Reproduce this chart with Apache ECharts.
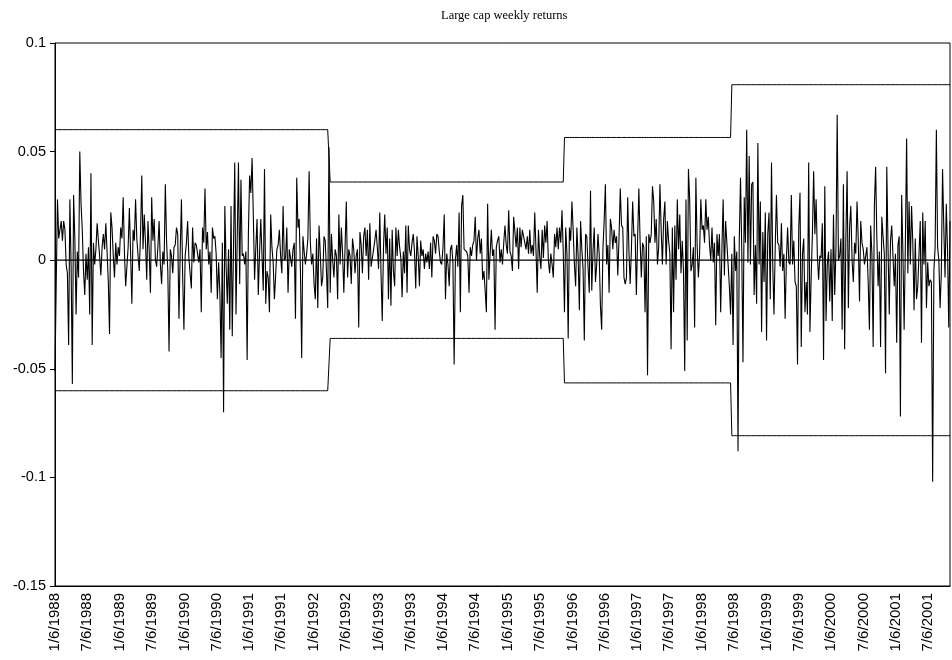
<!DOCTYPE html>
<html>
<head>
<meta charset="utf-8">
<script src="https://cdn.jsdelivr.net/npm/echarts@6/dist/echarts.min.js"></script>
<style>html,body{margin:0;padding:0;background:#fff}#c{width:952px;height:660px}</style>
</head>
<body>
<div id="c"></div>
<script>
// Weekly returns (in %), starting 1/6/1988, one value per week
const weeksA = [-5.1,-1.0,2.8,1.0,1.4,1.8,0.9,1.8,1.4,-0.2,-0.6,-3.9,2.8,-0.3,-5.7,3.0,1.0,-2.5,0.4,-0.8,5.0,2.6,1.4,-0.5,-1.6,0.3,-0.9,0.6,-2.5,4.0,-3.9,0.8,-0.2,0.5,1.7,0.9,0.2,-0.7,0.6,1.2,0.5,1.7,0.4,-1.0,-3.4,2.2,1.5,0.2,-0.8,0.8,-0.2,0.6,0.2,1.5,1.0,2.9,0.4,-1.2,-1.2,0.6,2.4,0.3,-2.0,1.4,0.9,2.8];
const weeksB = [1.0,0.2,-0.5,1.2,3.9,0.5,2.1,0.8,-0.9,1.8,0.4,-1.5,2.9,0.9,1.9,0.0,-0.3,0.6,1.8,-0.2,-1.1,0.4,-0.2,3.5,0.9,-0.5,-4.2,0.5,0.2,-0.6,0.6,0.7,1.5,1.2,-2.7,0.4,2.8,-0.8,-3.2,0.2,0.8,1.8,0.1,-0.6,-1.3,1.5,-0.1,0.8,0.7,0.3,-0.1,0.5,-2.4,1.5,0.8,3.3,0.5,1.3,-0.2,0.4,-1.5,1.5,1.0,1.1,0.3,-1.8];
const weeksC = [-0.1,-1.5,-4.5,0.8,-7.0,2.5,-0.2,-2.0,0.5,-3.2,2.5,-3.5,0.6,4.5,-2.5,1.0,4.5,-1.1,3.7,0.2,0.3,-0.2,0.4,-4.6,1.2,3.9,3.1,4.7,2.0,-0.9,0.6,1.9,-1.6,0.3,1.9,0.2,-1.4,4.2,-2.0,-0.5,-0.8,-2.4,2.1,0.6,-0.1,-1.8,-0.7,0.5,0.7,1.4,0.2,-0.6,2.5,0.0,0.1,1.5,-1.5,0.5,0.5,-0.3,0.5,0.8,-2.7,3.8,1.5,1.9,-0.5];
const weeksD = [-4.5,1.1,0.4,-0.2,0.3,1.0,4.1,0.8,-0.2,0.3,-1.1,-1.8,1.0,-2.2,1.6,0.3,-1.2,-0.8,1.1,0.9,-0.5,-2.2,5.2,-1.5,1.2,0.0,-0.8,0.5,0.2,-1.8,2.1,-0.2,1.5,0.3,-1.5,0.6,2.7,-0.8,0.5,0.2,-1.1,1.0,0.5,-0.6,0.2,0.5,-3.1,1.3,0.7,-0.6,1.1,1.5,0.2,1.4,-0.9,1.7,-0.3,-0.3,0.5,0.9,1.4,0.6,-0.4,2.2,-0.6,-2.8];
const weeksE = [0.6,2.1,0.3,1.5,-1.8,1.0,-2.1,1.4,-0.5,-1.2,1.5,0.2,1.4,0.6,0.1,-1.7,0.4,-0.6,1.6,-1.5,1.6,0.5,0.2,0.8,1.2,0.4,-1.3,1.1,0.2,-1.2,0.9,0.2,0.5,-0.4,0.3,-0.1,0.4,-0.4,0.8,-0.8,1.1,0.9,0.3,1.2,1.1,0.4,-0.1,-0.2,0.6,2.1,-1.8,0.3,-0.2,-1.2,0.5,0.7,-0.1,-4.8,0.0,0.7,-0.3,2.2,-2.4,2.5,3.0,0.5];
const weeksF = [0.5,0.4,0.2,-1.5,0.6,0.2,0.7,0.9,2.0,0.0,1.0,1.4,0.3,1.0,-0.9,-0.5,-1.4,-2.4,2.6,-0.9,0.3,1.4,0.2,0.5,-3.2,0.6,0.9,1.1,-0.1,0.5,-0.2,0.8,1.6,0.7,0.3,2.3,0.4,0.2,-0.5,2.0,1.3,0.6,1.5,-0.4,1.5,0.6,1.4,1.1,0.8,0.5,1.1,0.3,1.4,0.3,0.7,0.2,2.2,0.5,-1.5,1.4,0.2,-0.4,1.4,0.1,1.6,0.8];
const weeksG = [1.8,0.0,-0.6,0.3,-0.2,-0.8,1.2,0.6,1.5,0.5,1.5,0.8,2.3,0.4,-2.4,1.5,0.3,-3.6,1.5,0.9,2.7,1.4,-0.2,-1.2,1.5,0.2,-2.3,1.8,0.5,-0.4,-3.7,1.2,1.1,-0.3,-1.5,3.2,-1.4,0.4,1.5,-1.0,-0.2,1.2,0.3,-2.1,-3.2,0.5,1.8,3.5,-0.2,0.7,-1.5,1.9,1.5,0.5,1.4,0.8,1.1,-0.7,1.0,3.3,1.6,1.5,-0.8,-1.1,-0.8,2.9];
const weeksH = [0.4,-1.1,0.5,2.7,1.1,1.2,-1.6,1.0,3.3,0.9,-0.8,0.8,0.6,-2.4,1.1,-5.3,1.2,0.8,1.2,3.4,2.7,0.8,1.9,-0.2,0.6,3.5,1.4,-0.2,1.9,2.7,-0.2,1.8,0.9,0.3,-4.1,1.5,-2.4,1.6,-0.9,2.8,0.5,2.1,-0.6,0.9,-0.5,-5.1,2.8,-3.7,4.2,2.8,-0.5,-0.2,0.6,-3.1,3.8,0.7,-0.8,0.3,2.8,1.4,1.6,0.8,2.8,1.4,2.0,0.7];
const weeksI = [0.0,1.5,-0.1,0.8,-3.0,1.2,0.2,1.2,-2.4,0.5,2.8,-0.7,1.8,1.8,-0.2,-1.2,-2.5,0.3,-3.9,1.1,-0.5,0.4,-8.8,0.9,3.8,0.5,-4.7,2.9,0.8,6.0,-0.1,4.8,-0.2,3.5,3.6,-1.6,0.7,-2.0,5.4,-0.2,2.7,-3.3,1.3,-1.0,2.2,-3.7,1.2,2.2,-1.8,4.5,-0.2,-2.5,0.6,3.0,0.8,0.7,-0.3,1.7,-0.5,0.3,-2.7,0.0,1.5,-0.1,-0.2,3.0,-0.2];
const weeksJ = [0.9,-1.0,-1.2,-4.8,1.5,3.1,-4.0,0.3,1.0,-2.4,-1.0,-2.5,4.5,-3.3,-0.8,1.2,4.1,1.2,2.8,0.2,-0.9,0.2,0.1,1.7,-4.6,3.4,-2.8,-0.2,0.4,-1.9,0.5,-2.8,2.1,-1.6,0.5,6.7,0.0,0.2,1.0,-3.2,3.5,-4.1,1.0,4.1,-2.2,1.5,2.5,0.0,-1.0,0.8,0.3,2.7,0.9,-1.9,1.8,0.8,0.5,-0.2,0.2,0.6,-1.0,-3.2,1.6,0.3,-4.0,2.5];
const weeksK = [4.3,1.0,-1.2,0.4,-4.0,2.0,1.1,0.3,-5.2,4.3,0.6,-2.5,0.9,1.6,0.2,-1.2,0.3,-3.8,0.7,1.1,-7.2,3.0,0.4,-3.2,0.8,5.6,-0.6,2.7,-0.2,2.5,0.8,-2.3,1.0,-1.8,-1.2,-1.2,1.8,-3.8,2.2,-0.2,1.8,-2.2,-0.1,-1.2,-0.9,-1.0,-10.2,-0.5,0.6,6.0,0.6,0.0,-2.2,-0.6,4.2,1.5,-0.8,2.6,0.5,-3.1,1.8];

// Control band: half-width per regime and the week index where each regime starts
const bandLevels = [0.0601, 0.036, 0.0565, 0.0808];
const bandStartWeek = [0, 222, 411, 546];

// Axis tick labels (month/day of each year)
const tickYears = [1988,1989,1990,1991,1992,1993,1994,1995,1996,1997,1998,1999,2000,2001];
const tickMonthDays = [[1,6],[7,6]];

const titleText = 'Large cap weekly returns';

const returnsPct = [].concat(weeksA,weeksB,weeksC,weeksD,weeksE,weeksF,weeksG,weeksH,weeksI,weeksJ,weeksK);
const DAY = 86400000;
const START = Date.UTC(1988, 0, 6);

// x = week number since 1/6/1988
const mainData = returnsPct.map((v, i) => [i, v / 100]);
function levelAt(i) {
  let k = 0;
  for (let j = 0; j < bandStartWeek.length; j++) if (i >= bandStartWeek[j]) k = j;
  return bandLevels[k];
}
const upperData = returnsPct.map((v, i) => [i, levelAt(i)]);
const lowerData = returnsPct.map((v, i) => [i, -levelAt(i)]);
const zeroData = returnsPct.map((v, i) => [i, 0]);

const tickValues = [];
tickYears.forEach(y => tickMonthDays.forEach(md => tickValues.push((Date.UTC(y, md[0] - 1, md[1]) - START) / (7 * DAY))));

const chart = echarts.init(document.getElementById('c'), null, {renderer: 'canvas'});
const lineBase = {type: 'line', symbol: 'none', silent: true, animation: false, lineStyle: {color: '#000', width: 1}};
chart.setOption({
  animation: false,
  backgroundColor: '#fff',
  title: {
    text: titleText, left: 436, top: 4,
    textStyle: {fontFamily: 'Liberation Serif', fontSize: 12.5, fontWeight: 'normal', color: '#000'}
  },
  grid: {left: 55, right: 2, top: 43, bottom: 74, show: true, borderColor: '#000', borderWidth: 1},
  xAxis: {
    type: 'value',
    min: 0,
    max: returnsPct.length - 1,
    axisLine: {onZero: false, lineStyle: {color: '#000', width: 1}},
    axisTick: {show: false},
    splitLine: {show: false},
    axisLabel: {
      customValues: tickValues,
      rotate: 90, margin: 7, hideOverlap: false, showMinLabel: true, showMaxLabel: true,
      fontFamily: 'Liberation Sans', fontSize: 15, color: '#000',
      formatter: function (v) {
        const d = new Date(START + Math.round(v * 7) * DAY);
        return (d.getUTCMonth() + 1) + '/' + d.getUTCDate() + '/' + d.getUTCFullYear();
      }
    }
  },
  yAxis: {
    type: 'value', min: -0.15, max: 0.1, interval: 0.05,
    axisLine: {show: true, lineStyle: {color: '#000', width: 1}},
    axisTick: {show: true, inside: false, length: 5, lineStyle: {color: '#000'}},
    splitLine: {show: false},
    axisLabel: {
      margin: 9, fontFamily: 'Liberation Sans', fontSize: 14.5, color: '#000',
      formatter: function (v) { return String(parseFloat(v.toFixed(2))); }
    }
  },
  series: [
    Object.assign({}, lineBase, {data: zeroData, lineStyle: {color: '#000', width: 1.3}}),
    Object.assign({}, lineBase, {data: upperData}),
    Object.assign({}, lineBase, {data: lowerData}),
    Object.assign({}, lineBase, {data: mainData, lineStyle: {color: '#000', width: 1.1}})
  ]
});
</script>
</body>
</html>
